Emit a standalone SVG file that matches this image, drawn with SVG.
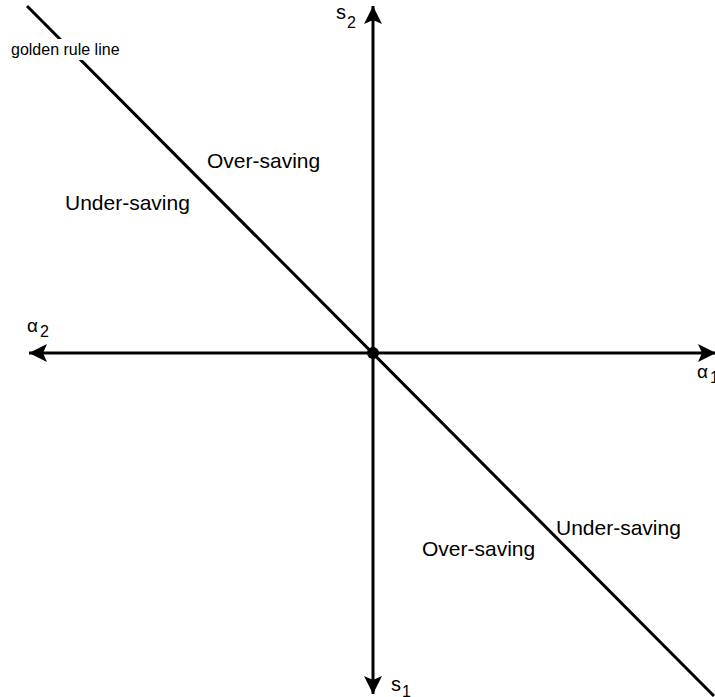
<svg xmlns="http://www.w3.org/2000/svg" width="715" height="697" viewBox="0 0 715 697">
<style>
.ax{stroke:#000;stroke-width:3;fill:none}
.lbl{font-family:"Liberation Sans",Arial,sans-serif;fill:#000}
</style>
<defs>
<marker id="arr" viewBox="-19 -10 20 20" refX="0" refY="0" markerWidth="20" markerHeight="20" markerUnits="userSpaceOnUse" orient="auto-start-reverse">
<path d="M0,0 L-18,-9 L-14,0 L-18,9 Z" fill="#000"/>
</marker>
</defs>
<rect width="715" height="697" fill="#fff"/>
<g id="connectors">
<line class="ax" x1="27" y1="6" x2="714" y2="696"/>
<line class="ax" x1="29" y1="353" x2="716" y2="353" marker-start="url(#arr)" marker-end="url(#arr)"/>
<line class="ax" x1="373" y1="6" x2="373" y2="694" marker-start="url(#arr)" marker-end="url(#arr)"/>
</g>
<g id="golden-label">
<rect x="9" y="39" width="120" height="21" fill="#fff"/>
<text class="lbl" x="11" y="55" font-size="16">golden rule line</text>
</g>
<g id="origin"><circle cx="373" cy="353" r="6" fill="#000"/></g>
<g id="s2"><text class="lbl" x="336" y="19" font-size="20">s<tspan x="347" y="28" font-size="16">2</tspan></text></g>
<g id="alpha2"><text class="lbl" x="27" y="332" font-size="19">α<tspan x="40" y="337" font-size="16">2</tspan></text></g>
<g id="alpha1"><text class="lbl" x="697" y="378" font-size="19">α<tspan x="710" y="383" font-size="16">1</tspan></text></g>
<g id="s1"><text class="lbl" x="391" y="691" font-size="20">s<tspan x="402" y="697" font-size="16">1</tspan></text></g>
<g id="over-top"><text class="lbl" x="207" y="168" font-size="21">Over-saving</text></g>
<g id="under-top"><text class="lbl" x="65" y="210" font-size="21">Under-saving</text></g>
<g id="under-bottom"><text class="lbl" x="556" y="535" font-size="21">Under-saving</text></g>
<g id="over-bottom"><text class="lbl" x="422" y="556" font-size="21">Over-saving</text></g>
</svg>
